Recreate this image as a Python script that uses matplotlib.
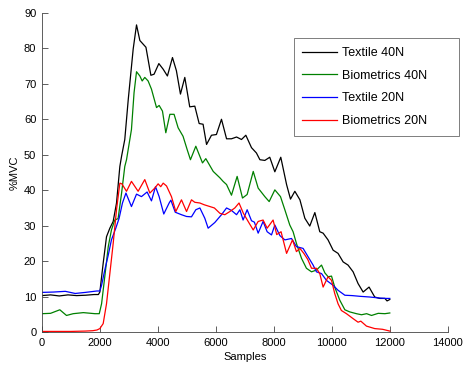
import matplotlib
matplotlib.use('Agg')
import matplotlib.pyplot as plt

plt.rcParams['font.family'] = ['Liberation Sans', 'DejaVu Sans']
plt.rcParams['font.size'] = 8

# Textile 40N
x_t40 = [0, 300, 600, 900, 1200, 1500, 1800, 1950, 2000, 2115, 2230, 2345, 2460, 2575, 2690, 2750,
         2860, 2980, 3150, 3265, 3380, 3590, 3760, 3870, 4035, 4185, 4330, 4505, 4640, 4780, 4930, 5100,
         5275, 5425, 5560, 5680, 5850, 6020, 6195, 6370, 6540, 6715, 6885, 7035, 7230, 7400, 7520, 7690,
         7860, 8035, 8240, 8440, 8575, 8725, 8900, 9070, 9240, 9415, 9585, 9700, 9870, 10045, 10215, 10390,
         10560, 10735, 10905, 11080, 11285, 11480, 11655, 11830, 11905, 12000]
y_t40 = [10.3, 10.5, 10.2, 10.5, 10.3, 10.4, 10.6, 10.6, 11.3, 19.4, 26.9, 29.3, 31.2, 36.4, 46.7, 49.6,
         54.3, 65.6, 79.8, 86.6, 82.2, 80.3, 72.4, 72.7, 75.7, 74.1, 72.2, 77.4, 73.7, 67.1, 71.8, 63.5,
         63.7, 58.8, 58.6, 52.9, 55.5, 55.7, 60.0, 54.5, 54.5, 55.0, 54.3, 55.5, 52.0, 50.5, 48.6, 48.4,
         49.3, 45.2, 49.3, 41.6, 37.5, 39.7, 37.3, 32.1, 29.9, 33.7, 28.3, 27.9, 26.0, 23.1, 22.2, 19.8,
         18.9, 17.0, 13.7, 11.3, 12.7, 9.9, 9.5, 9.5, 8.8, 9.2]

# Biometrics 40N
x_b40 = [0, 300, 620, 850, 1080, 1430, 1830, 1980, 2060, 2170, 2290, 2400, 2515, 2630, 2750, 2860,
         2920, 3090, 3180, 3265, 3380, 3460, 3550, 3665, 3780, 3955, 4045, 4160, 4275, 4415, 4560, 4700,
         4870, 5010, 5125, 5310, 5540, 5655, 5910, 6140, 6250, 6370, 6540, 6735, 6920, 7080, 7290, 7460,
         7690, 7840, 8035, 8230, 8380, 8550, 8665, 8780, 8955, 9125, 9300, 9470, 9645, 9760, 9875, 9990,
         10100, 10275, 10450, 10620, 10850, 11025, 11200, 11370, 11600, 11830, 12000]
y_b40 = [5.2, 5.3, 6.3, 4.7, 5.2, 5.5, 5.2, 5.2, 8.0, 15.6, 24.1, 28.8, 31.6, 32.0, 39.2, 46.7,
         48.6, 57.1, 67.5, 73.4, 72.2, 70.8, 71.8, 70.8, 68.5, 63.3, 63.9, 62.3, 56.2, 61.4, 61.4, 57.6,
         55.2, 51.5, 48.6, 52.4, 47.7, 48.9, 45.3, 43.5, 42.5, 41.6, 38.6, 43.9, 37.8, 38.8, 45.3, 40.6,
         38.2, 36.8, 40.1, 38.2, 34.5, 30.2, 28.3, 25.0, 20.8, 18.0, 17.0, 17.5, 18.9, 16.7, 15.6, 15.8,
         12.7, 9.0, 6.3, 5.7, 5.2, 4.9, 5.2, 4.7, 5.3, 5.2, 5.4]

# Textile 20N
x_t20 = [0, 400, 810, 1150, 1500, 1900, 2000, 2060, 2170, 2290, 2400, 2550, 2665, 2780, 2900, 3090,
         3265, 3435, 3630, 3780, 3920, 4045, 4205, 4390, 4450, 4600, 4815, 4990, 5160, 5310, 5450, 5620,
         5735, 5965, 6195, 6370, 6540, 6715, 6830, 6940, 7080, 7230, 7330, 7460, 7630, 7770, 7920, 8035,
         8210, 8380, 8610, 8780, 9010, 9185, 9355, 9470, 9645, 9815, 10045, 10215, 10450, 10700, 10965, 11310,
         11655, 11885, 12000]
y_t20 = [11.2, 11.3, 11.5, 10.9, 11.2, 11.6, 11.6, 13.2, 17.5, 21.7, 26.0, 29.3, 32.1, 36.4, 39.2, 35.4,
         38.9, 38.2, 39.5, 37.0, 41.0, 38.2, 33.3, 36.4, 37.2, 33.8, 33.1, 32.6, 32.5, 34.5, 35.0, 32.1,
         29.3, 30.9, 33.1, 35.0, 34.3, 33.1, 34.5, 31.6, 34.5, 31.4, 31.0, 27.9, 31.2, 28.3, 27.4, 30.2,
         27.2, 26.0, 26.4, 24.1, 23.6, 21.2, 18.9, 17.0, 16.5, 14.6, 13.2, 11.8, 10.4, 10.3, 10.1, 9.9,
         9.6, 9.5, 9.5]

# Biometrics 20N
x_b20 = [0, 500, 1000, 1500, 1750, 1900, 2000, 2115, 2230, 2345, 2460, 2575, 2690, 2760,
         2920, 3090, 3320, 3550, 3725, 3895, 4010, 4100, 4185, 4300, 4470, 4620, 4815, 4990,
         5160, 5275, 5450, 5600, 5795, 5950, 6140, 6310, 6485, 6655, 6800, 6950, 7115, 7290,
         7460, 7630, 7770, 7975, 8100, 8250, 8440, 8645, 8780, 8900, 9035, 9170, 9300, 9470,
         9585, 9700, 9870, 9990, 10100, 10215, 10330, 10505, 10735, 10905, 11000, 11195, 11480, 11750, 12000]
y_b20 = [0.2, 0.2, 0.2, 0.3, 0.4, 0.6, 1.0, 2.4, 8.0, 16.5, 25.0, 34.5, 42.0, 41.8,
         39.7, 42.5, 39.7, 43.0, 39.2, 40.6, 41.8, 41.0, 42.0, 41.2, 38.2, 34.0, 37.3, 34.0,
         37.3, 36.6, 36.4, 35.9, 35.4, 35.0, 33.5, 33.1, 34.0, 35.0, 36.4, 33.5, 31.2, 28.8,
         31.2, 31.6, 29.3, 31.6, 27.5, 28.3, 22.2, 26.0, 22.7, 23.6, 22.2, 20.5, 18.0, 18.0,
         16.5, 12.7, 15.6, 14.6, 10.9, 8.0, 6.1, 5.2, 3.8, 2.8, 3.1, 1.7, 1.0, 0.8, 0.3]

fig = plt.figure(figsize=(4.65, 3.67), dpi=100)
ax = fig.add_axes([0.090, 0.095, 0.873, 0.870])

lw = 0.9
ax.plot(x_t40, y_t40, color='black', lw=lw, label='Textile 40N')
ax.plot(x_b40, y_b40, color='#008000', lw=lw, label='Biometrics 40N')
ax.plot(x_t20, y_t20, color='#0000ff', lw=lw, label='Textile 20N')
ax.plot(x_b20, y_b20, color='#ff0000', lw=lw, label='Biometrics 20N')

ax.set_xlim(0, 14000)
ax.set_ylim(0, 90)
ax.set_xticks(range(0, 14001, 2000))
ax.set_yticks(range(0, 91, 10))
ax.set_xlabel('Samples', labelpad=3)
ax.set_ylabel('%MVC', labelpad=3)

for s in ['top', 'right']:
    ax.spines[s].set_visible(False)
for s in ['left', 'bottom']:
    ax.spines[s].set_color('#444444')
    ax.spines[s].set_linewidth(0.6)
ax.tick_params(direction='in', length=4, width=0.6, color='#444444', pad=4)

leg = ax.legend(loc='upper left', bbox_to_anchor=(0.62, 0.618, 0.407, 0.302),
                mode='expand', borderaxespad=0, frameon=True, fancybox=False, fontsize=9,
                handlelength=2.8, handletextpad=0.35, labelspacing=0.85, borderpad=0.7)
leg.get_frame().set_edgecolor('#444444')
leg.get_frame().set_linewidth(0.6)
leg.set_clip_on(False)

fig.savefig('out.png', dpi=100)
